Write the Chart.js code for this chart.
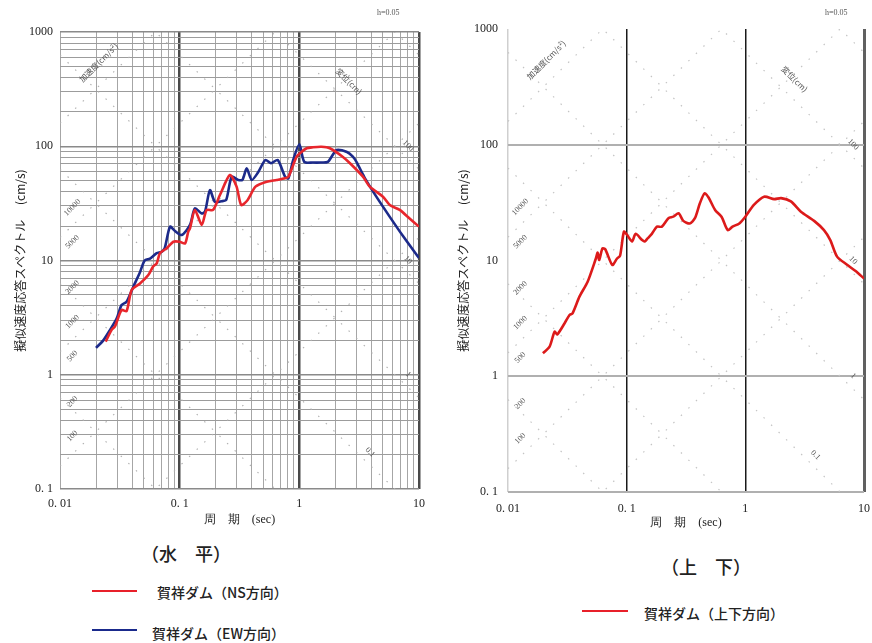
<!DOCTYPE html>
<html><head><meta charset="utf-8">
<script src="https://cdn.jsdelivr.net/npm/chart.js@4.4.1/dist/chart.umd.min.js"></script>
<style>
html,body{margin:0;padding:0;background:#fff;width:872px;height:643px;overflow:hidden;position:relative;font-family:"Noto Sans CJK JP",sans-serif;}
#c1{position:absolute;left:0;top:0;}
#c2{position:absolute;left:440px;top:0;}
.t{position:absolute;white-space:nowrap;color:#222;line-height:1;}
.ln{position:absolute;height:2px;}
</style></head>
<body>
<canvas id="c1" width="436" height="540"></canvas>
<canvas id="c2" width="440" height="540"></canvas>
<div class="t" style="left:377px;top:9px;font-size:8px;font-family:'Liberation Serif',serif;color:#555">h=0.05</div>
<div class="t" style="left:825px;top:9px;font-size:8px;font-family:'Liberation Serif',serif;color:#555">h=0.05</div>
<div class="t" style="left:141px;top:544px;font-size:18px;font-weight:500">（水　平）</div>
<div class="t" style="left:661px;top:557px;font-size:18px;font-weight:500">（上　下）</div>
<div class="ln" style="left:92px;top:590px;width:45px;background:#e8202a"></div>
<div class="t" style="left:157px;top:585px;font-size:14px;font-weight:500">賀祥ダム（NS方向）</div>
<div class="ln" style="left:92px;top:629px;width:45px;background:#1a2a8c"></div>
<div class="t" style="left:152px;top:626px;font-size:14px;font-weight:500">賀祥ダム（EW方向）</div>
<div class="ln" style="left:582px;top:610px;width:46px;background:#e8202a"></div>
<div class="t" style="left:644px;top:606px;font-size:14px;font-weight:500">賀祥ダム（上下方向）</div>
<script>
// ---- axis definitions ----
const xDecades = [0.01, 0.1, 1, 10];
const xTickLabels = ['0. 01', '0. 1', '1', '10'];
const yDecades = [0.1, 1, 10, 100, 1000];
const yTickLabels = ['0. 1', '1', '10', '100', '1000'];

// ---- tripartite guide values ----
const accelLines = [10, 100, 1000, 10000, 100000]; // cm/s^2
const dispLines = [0.001, 0.01, 0.1, 1, 10, 100, 1000]; // cm
const accelLabels = ['100', '200', '500', '1000', '2000', '5000', '10000'];
const dispLabels = ['100', '10', '1', '0.1'];

// ---- series: horizontal NS (red) ----
const nsPeriod = [0.0241,0.027,0.0288,0.0327,0.036,0.0397,0.0466,0.0547,0.0602,0.0643,0.0685,0.078,0.0885,0.1,0.111,0.118,0.122,0.134,0.153,0.168,0.19,0.217,0.263,0.299,0.327,0.37,0.43,0.533,0.645,0.76,0.81,0.889,0.95,1.0,1.15,1.3,1.53,1.8,2.3,2.65,3.4,3.88,5.0,5.7,6.9,8.3,10];
const nsVel    = [1.95,2.47,2.65,3.69,3.6,5.52,6.3,7.46,8.9,9.45,11.6,12.8,14.6,14.6,14.1,17.9,19.1,27.7,20.5,27.7,27.7,37.4,56,44.3,30.6,33.9,44.3,49,50.7,52.4,54,68.6,81,86,96,98,99,96,81,71,54.2,44.3,36.2,30.6,27.7,23.4,19.8];

// ---- series: horizontal EW (blue) ----
const ewPeriod = [0.02,0.023,0.0262,0.0298,0.0327,0.036,0.041,0.0466,0.051,0.0565,0.0643,0.0705,0.075,0.083,0.091,0.104,0.122,0.134,0.153,0.163,0.179,0.197,0.224,0.245,0.272,0.309,0.335,0.363,0.4,0.45,0.52,0.58,0.66,0.76,0.81,0.889,1.0,1.1,1.3,1.5,1.73,2.05,2.5,2.8,3.0,3.6,4.4,5.7,7.4,10];
const ewVel    = [1.72,2.0,2.47,3.12,4.08,4.36,5.9,7.9,10.0,10.4,11.6,11.9,12.8,19.8,18.2,16.7,20.5,28.6,25.8,26.9,41.3,32.6,33,34,54,50.7,51,64,50.7,58.6,75.8,71,75.8,54.2,52.4,75.8,104,73,72,72,73,92.7,89,81,73,50.7,36.2,24.1,16.2,10.5];

// ---- series: vertical UD (red) ----
const udPeriod = [0.0197,0.0224,0.0247,0.026,0.03,0.033,0.035,0.04,0.0469,0.055,0.057,0.0587,0.0625,0.066,0.0757,0.083,0.088,0.0948,0.101,0.111,0.119,0.135,0.142,0.15,0.163,0.18,0.198,0.225,0.247,0.274,0.3,0.34,0.376,0.414,0.454,0.49,0.556,0.63,0.71,0.78,0.89,1.0,1.18,1.44,1.75,2.0,2.42,2.94,3.8,4.6,5.2,5.93,7.2,8.5,10];
const udVel    = [1.58,1.8,2.43,2.3,2.87,3.38,3.5,4.87,6.56,10.4,11.7,10.1,12.7,12.5,9.15,10.4,11,17.7,16.6,14.6,17,15,14.6,15.5,17,19.6,19.6,23.2,23.9,25.6,22,20.9,23.2,31.2,38.1,35,27.3,23.9,18.3,19.6,20.9,23.9,30.2,35.6,33.9,34.6,32.4,26.4,22,18.3,15.0,10.8,9.2,8.1,7.0];

// ---- helpers ----
const near = (a, b) => Math.abs(a - b) / b < 1e-6;
const isIn = (v, arr) => arr.some(d => near(v, d));
function fullTicks(dec) {
  const out = [];
  for (let i = 0; i < dec.length - 1; i++) for (let m = 1; m <= 9; m++) out.push(+(dec[i] * m).toPrecision(4));
  out.push(dec[dec.length - 1]);
  return out;
}
const pts = (xs, ys) => xs.map((x, i) => ({x, y: ys[i]}));
const serif = {family: "'Liberation Serif', 'DejaVu Serif', serif", size: 12};

const tripartite = {
  id: 'tripartite',
  beforeDatasetsDraw(chart, args, o) {
    const {ctx, chartArea: a, scales: {x, y}} = chart;
    const t0 = x.min, t1 = x.max, k = 2 * Math.PI;
    ctx.save();
    ctx.beginPath(); ctx.rect(a.left, a.top, a.right - a.left, a.bottom - a.top); ctx.clip();
    ctx.strokeStyle = o.color; ctx.lineWidth = 1.2; ctx.setLineDash([1.5, 9]);
    const seg = (v0, v1) => {
      ctx.beginPath();
      ctx.moveTo(x.getPixelForValue(t0), y.getPixelForValue(v0));
      ctx.lineTo(x.getPixelForValue(t1), y.getPixelForValue(v1));
      ctx.stroke();
    };
    accelLines.forEach(A => seg(A * t0 / k, A * t1 / k));
    dispLines.forEach(D => seg(k * D / t0, k * D / t1));
    ctx.setLineDash([]);
    ctx.fillStyle = '#555';
    ctx.font = "8px 'Liberation Serif', serif";
    ctx.textAlign = 'center'; ctx.textBaseline = 'middle';
    const put = (txt, T, V, dy, rot) => {
      ctx.save();
      ctx.translate(x.getPixelForValue(T), y.getPixelForValue(V) + dy);
      ctx.rotate(rot); ctx.fillText(txt, 0, 0); ctx.restore();
    };
    accelLabels.forEach(s => put(s, 0.0127, +s * 0.0127 / k, -18, -Math.PI / 4));
    dispLabels.forEach(s => { const T = +s < 1 ? 3.9 : 8.1; put(s, T, k * +s / T, -13, Math.PI / 4); });
    ctx.font = "8px 'Noto Sans CJK JP', sans-serif";
    put('加速度(cm/s²)', 0.021, 540, 0, -Math.PI / 4);
    put('変位(cm)', 2.6, 370, 0, Math.PI / 4);
    ctx.restore();
  }
};

function makeChart(id, datasets, cfg) {
  return new Chart(document.getElementById(id), {
    type: 'line',
    data: {datasets},
    plugins: [tripartite],
    options: {
      responsive: false, animation: false,
      layout: {padding: cfg.pad},
      plugins: {legend: {display: false}, tooltip: {enabled: false}, tripartite: {color: cfg.diag}},
      elements: {point: {radius: 0}, line: {tension: 0.25, borderWidth: 2.6}},
      scales: {
        x: {
          type: 'logarithmic', min: 0.01, max: 10,
          afterBuildTicks: s => { s.ticks = cfg.xTicks.map(v => ({value: v})); },
          afterFit: s => { s.height = cfg.xH; },
          ticks: {autoSkip: false, maxRotation: 0, padding: cfg.xTickPad, color: '#222', font: serif,
            callback: v => { const i = xDecades.findIndex(d => near(v, d)); return i >= 0 ? xTickLabels[i] : ''; }},
          grid: {drawTicks: false, color: cfg.xGridColor, lineWidth: cfg.xGridWidth},
          border: {display: false},
          title: {display: true, text: '周　期　(sec)', color: '#222', font: serif, padding: {top: 0, bottom: cfg.xTitlePad}}
        },
        y: {
          type: 'logarithmic', min: 0.1, max: 1000,
          afterBuildTicks: s => { s.ticks = cfg.yTicks.map(v => ({value: v})); },
          afterFit: s => { s.width = cfg.yW; },
          ticks: {autoSkip: false, padding: cfg.yTickPad, color: '#222', font: serif,
            callback: v => { const i = yDecades.findIndex(d => near(v, d)); return i >= 0 ? yTickLabels[i] : ''; }},
          grid: {drawTicks: false, color: cfg.yGridColor, lineWidth: cfg.yGridWidth},
          border: {display: false},
          title: {display: true, text: '擬似速度応答スペクトル　 (cm/s)', color: '#222',
            font: {family: "'Noto Sans CJK JP', sans-serif", size: 12}, padding: {top: cfg.yTitlePad, bottom: 0}}
        }
      }
    }
  });
}

// left: horizontal
makeChart('c1', [
  {data: pts(nsPeriod, nsVel), borderColor: '#e8262c'},
  {data: pts(ewPeriod, ewVel), borderColor: '#1c2a8a'}
], {
  pad: {left: 0, top: 32, right: 17, bottom: 0},
  xH: 51, yW: 60, xTickPad: 8, yTickPad: 7, xTitlePad: 13, yTitlePad: 13,
  xTicks: fullTicks(xDecades), yTicks: fullTicks(yDecades),
  diag: '#b0b0b0',
  xGridColor: c => { const v = c.tick.value; return (isIn(v, xDecades) && !near(v, 0.01)) ? '#4a4a4a' : '#a6a6a6'; },
  xGridWidth: c => { const v = c.tick.value; return (isIn(v, xDecades) && !near(v, 0.01)) ? 2.5 : 1; },
  yGridColor: c => isIn(c.tick.value, yDecades) ? '#8a8a8a' : '#9c9c9c',
  yGridWidth: c => isIn(c.tick.value, yDecades) ? 1.5 : 1
});

// right: vertical
makeChart('c2', [
  {data: pts(udPeriod, udVel), borderColor: '#dc1a1a'}
], {
  pad: {left: 0, top: 29, right: 13, bottom: 0},
  xH: 48, yW: 68, xTickPad: 10, yTickPad: 10, xTitlePad: 10, yTitlePad: 16,
  xTicks: xDecades, yTicks: yDecades,
  diag: '#c4c4c4',
  xGridColor: c => { const v = c.tick.value; return near(v, 0.01) ? '#cfcfcf' : near(v, 10) ? '#606060' : '#1a1a1a'; },
  xGridWidth: c => { const v = c.tick.value; return near(v, 0.01) ? 1.5 : near(v, 10) ? 3 : 1.5; },
  yGridColor: c => { const v = c.tick.value; return (near(v, 10) || near(v, 1000)) ? 'rgba(0,0,0,0)' : '#b0b0b0'; },
  yGridWidth: 2
});
</script>
</body></html>
